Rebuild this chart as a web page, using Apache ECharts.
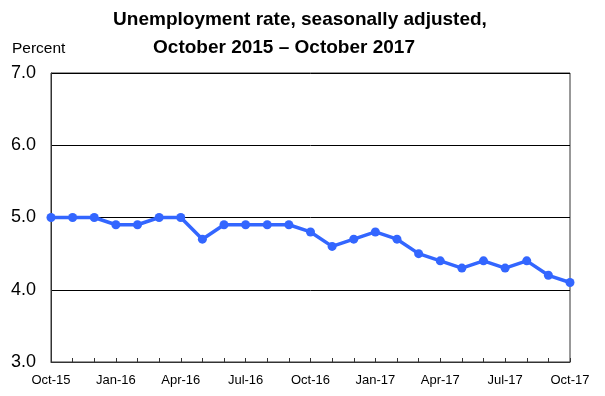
<!DOCTYPE html>
<html><head><meta charset="utf-8">
<script src="https://cdn.jsdelivr.net/npm/echarts@6/dist/echarts.min.js"></script>
<style>html,body{margin:0;padding:0;background:#fff}#c{width:605px;height:396px}</style>
</head><body><div id="c"></div>
<script>
const months = ["Oct-15","Nov-15","Dec-15","Jan-16","Feb-16","Mar-16","Apr-16","May-16","Jun-16","Jul-16","Aug-16","Sep-16","Oct-16","Nov-16","Dec-16","Jan-17","Feb-17","Mar-17","Apr-17","May-17","Jun-17","Jul-17","Aug-17","Sep-17","Oct-17"];
const rate = [5.0,5.0,5.0,4.9,4.9,5.0,5.0,4.7,4.9,4.9,4.9,4.9,4.8,4.6,4.7,4.8,4.7,4.5,4.4,4.3,4.4,4.3,4.4,4.2,4.1];
const titleLine1 = "Unemployment rate, seasonally adjusted,";
const titleLine2 = "October 2015 \u2013 October 2017";
const yAxisName = "Percent";

const chart = echarts.init(document.getElementById('c'));
const F = "'Liberation Sans', Arial, sans-serif";
chart.setOption({
  animation: false,
  title: [
    {text: titleLine1, left: 295, top: 5, textAlign: 'center', textStyle: {fontFamily: F, fontSize: 19, fontWeight: 'bold', color: '#000'}},
    {text: titleLine2, left: 279, top: 33, textAlign: 'center', textStyle: {fontFamily: F, fontSize: 19, fontWeight: 'bold', color: '#000'}},
    {text: yAxisName, left: 7, top: 36, textStyle: {fontFamily: F, fontSize: 15.5, fontWeight: 'normal', color: '#000'}}
  ],
  grid: {left: 51, right: 35, top: 73, bottom: 34, show: true, borderColor: '#333', borderWidth: 1},
  xAxis: {
    type: 'category', data: months, boundaryGap: false,
    axisLine: {lineStyle: {color: '#333', width: 1}},
    axisTick: {inside: true, length: 4, interval: 0, lineStyle: {color: '#333'}},
    axisLabel: {interval: 2, fontFamily: F, fontSize: 13, color: '#000', margin: 12},
    splitLine: {show: false}
  },
  yAxis: {
    type: 'value', min: 3, max: 7, interval: 1,
    axisLine: {show: true, lineStyle: {color: '#333'}},
    axisTick: {show: false},
    axisLabel: {formatter: v => v.toFixed(1), fontFamily: F, fontSize: 18, color: '#000', margin: 15},
    splitLine: {lineStyle: {color: '#000', width: 1}}
  },
  series: [{
    type: 'line', data: rate,
    lineStyle: {color: '#3366ff', width: 3.5},
    itemStyle: {color: '#3366ff'},
    symbol: 'circle', symbolSize: 9
  }]
});
</script></body></html>
